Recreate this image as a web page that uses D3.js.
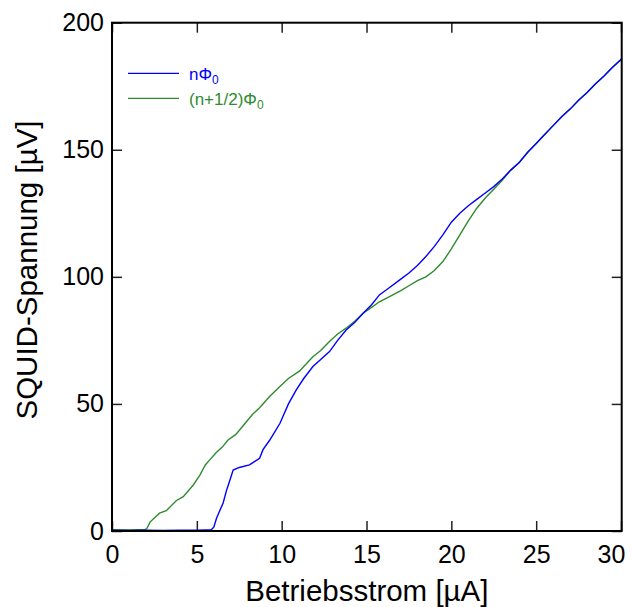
<!DOCTYPE html>
<html>
<head>
<meta charset="utf-8">
<script src="https://cdn.jsdelivr.net/npm/d3@7"></script>
<style>
	body { margin: 0; background: #fff; }
	svg { font-family: "Liberation Sans", Arial, sans-serif; display: block; }
</style>
</head>
<body>
<svg id="chart" width="632" height="607"></svg>
<script>
// Betriebsstrom [uA] / SQUID-Spannung [uV]
var blueI = [0, 1, 2, 3, 4, 5, 5.5, 5.85, 6.0, 6.16, 6.35, 6.55, 6.75, 6.9, 7.14, 7.5, 8.1, 8.7, 8.9, 9.3, 9.9, 10.4, 10.86, 11.3, 11.84, 12.3, 12.82, 13.3, 13.8, 14.3, 14.8, 15.3, 15.76, 16.3, 17, 17.5, 18, 18.5, 19, 19.5, 20, 20.5, 21, 21.5, 22, 22.5, 23, 23.5, 24, 24.5, 25, 25.5, 26, 26.5, 27, 27.5, 28, 28.5, 29, 29.5, 30, 30.04];
var blueU = [0.3, 0.2, 0.3, 0.2, 0.3, 0.3, 0.4, 0.5, 1.5, 5, 8, 11, 16, 19, 24, 25, 26, 28.6, 32, 35.8, 42.4, 50, 55.5, 60, 64.7, 67.5, 70.6, 75, 79.1, 82, 85.7, 89, 92.9, 95.5, 99, 101.5, 104.5, 108, 112, 116.5, 121.5, 125, 128, 130.5, 133, 135.5, 138.5, 142, 145, 149, 152.5, 156, 159.5, 163, 166, 169.5, 172.5, 176, 179, 182.5, 185.5, 186];

var greenI = [0, 1, 1.5, 1.94, 2.04, 2.24, 2.8, 3.2, 3.8, 4.2, 4.78, 5.18, 5.5, 5.76, 6.16, 6.5, 6.84, 7.3, 7.8, 8.3, 8.7, 9.3, 9.88, 10.4, 11.06, 11.84, 12.3, 12.8, 13.3, 13.8, 14.3, 14.8, 15.3, 15.76, 16.3, 17, 17.5, 18, 18.5, 19, 19.5, 20, 20.5, 21, 21.5, 22, 22.5, 23, 23.5, 24, 24.5, 25, 25.5, 26, 26.5, 27, 27.5, 28, 28.5, 29, 29.5, 30, 30.04];
var greenU = [0.5, 0.4, 0.5, 0.6, 0.8, 3.5, 7, 8, 12, 13.5, 18, 22, 26, 28, 31, 33, 35.8, 38, 42, 46, 48.5, 53, 56.8, 60, 63, 68.6, 71, 74.5, 77.5, 79.8, 82.5, 85.7, 88, 90.2, 92, 94.5, 96.5, 98.5, 100, 102.5, 106, 111, 116.5, 122, 127, 131, 134.5, 138, 142, 145, 149, 152.5, 156, 159.5, 163, 166, 169.5, 172.5, 176, 179, 182.5, 185.5, 186];

var xTicks = [0, 5, 10, 15, 20, 25, 30];
var yTicks = [0, 50, 100, 150, 200];

var svg = d3.select("#chart"),
    margin = {top: 22.7, right: 10.3, bottom: 76, left: 112},
    width = 632 - margin.left - margin.right,
    height = 607 - margin.top - margin.bottom;

var x = d3.scaleLinear().domain([0, 30.04]).range([0, width]),
    y = d3.scaleLinear().domain([0, 200]).range([height, 0]);

var g = svg.append("g").attr("transform", "translate(" + margin.left + "," + margin.top + ")");

var blue = blueI.map(function(d, i) { return [d, blueU[i]]; });
var green = greenI.map(function(d, i) { return [d, greenU[i]]; });

var line = d3.line().x(function(d) { return x(d[0]); }).y(function(d) { return y(d[1]); });

g.append("path").datum(green).attr("fill", "none").attr("stroke", "#2e8b2e").attr("stroke-width", 1.4).attr("d", line);
g.append("path").datum(blue).attr("fill", "none").attr("stroke", "#0000ff").attr("stroke-width", 1.4).attr("d", line);

// axes, ticks pointing inward on all four sides
var xb = g.append("g").attr("transform", "translate(0," + height + ")")
    .call(d3.axisBottom(x).tickValues(xTicks).tickSize(-10).tickPadding(14));
var yl = g.append("g")
    .call(d3.axisLeft(y).tickValues(yTicks).tickSize(-10).tickPadding(8));
g.append("g").call(d3.axisTop(x).tickValues(xTicks).tickSize(-10).tickFormat(""));
g.append("g").attr("transform", "translate(" + width + ",0)")
    .call(d3.axisRight(y).tickValues(yTicks).tickSize(-10).tickFormat(""));

g.selectAll(".domain").remove();
g.selectAll(".tick line").attr("stroke", "#222").attr("stroke-width", 1.5);
g.selectAll(".tick text").attr("font-size", 25).attr("fill", "#000").attr("font-family", "'Liberation Sans', Arial, sans-serif");
xb.selectAll(".tick text").filter(function(d) { return d === 30; }).attr("dx", -10);

g.append("rect").attr("width", width).attr("height", height)
    .attr("fill", "none").attr("stroke", "#000").attr("stroke-width", 2);

// axis titles
svg.append("text").attr("x", margin.left + width / 2).attr("y", 601)
    .attr("text-anchor", "middle").attr("font-size", 29.5).text("Betriebsstrom [µA]");
svg.append("text").attr("transform", "translate(37," + 270 + ") rotate(-90)")
    .attr("text-anchor", "middle").attr("font-size", 29.5).text("SQUID-Spannung [µV]");

// legend
var legend = [
  {label: "nΦ", color: "#0000ff", y: 73.3},
  {label: "(n+1/2)Φ", color: "#2e8b2e", y: 98.3}
];
legend.forEach(function(l) {
  svg.append("line").attr("x1", 128).attr("x2", 179).attr("y1", l.y).attr("y2", l.y)
      .attr("stroke", l.color).attr("stroke-width", 1.3);
  var t = svg.append("text").attr("x", 189).attr("y", l.y + 7).attr("font-size", 17).attr("fill", l.color);
  t.append("tspan").text(l.label);
  t.append("tspan").attr("dy", 4).attr("font-size", 12).text("0");
});
</script>
</body>
</html>
